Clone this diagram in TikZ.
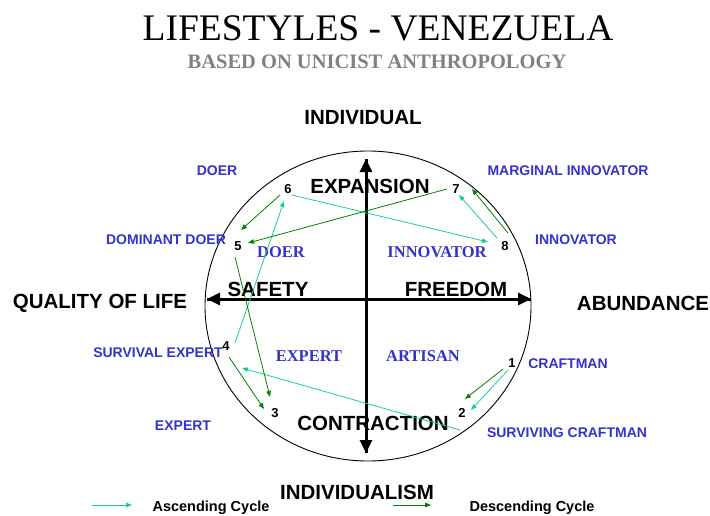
\documentclass[tikz,border=0pt]{standalone}
\usepackage{fontspec}
\setmainfont{Liberation Serif}
\setsansfont{Liberation Sans}
\usepackage{xcolor}
\usetikzlibrary{arrows.meta,calc}
\definecolor{ascend}{RGB}{26,204,153}
\definecolor{descend}{RGB}{0,128,0}
\definecolor{label blue}{RGB}{51,51,204}
\definecolor{sub gray}{RGB}{128,128,128}
\def\lifecircle{(368,306) ellipse (163 and 155)}
\tikzset{axis/.style={line width=3pt, -{Triangle[length=13pt,width=12pt]}},
    upcycle/.style={draw=ascend, line width=0.8pt, -{Triangle[length=6pt,width=4.5pt]}},
    downcycle/.style={draw=descend, line width=0.8pt, -{Triangle[length=6pt,width=4.5pt]}},
    pole/.style={font=\sffamily\bfseries\fontsize{20.5}{22}\selectfont, inner sep=0pt},
    style name/.style={font=\sffamily\bfseries\fontsize{14}{16}\selectfont, text=label blue, inner sep=0pt},
    quadrant/.style={font=\bfseries\fontsize{16.5}{18}\selectfont, text=label blue, inner sep=0pt},
    step num/.style={font=\sffamily\bfseries\fontsize{13}{15}\selectfont, inner sep=0pt},
    legend/.style={font=\sffamily\bfseries\fontsize{14.5}{16}\selectfont, inner sep=0pt}}

\begin{document}
\begin{tikzpicture}[x=1pt, y=-1pt]
    \useasboundingbox (0,0) rectangle (710,515);
    % titles
    \node[inner sep=0pt, font=\fontsize{37.5}{40}\selectfont] (title) at (378,28) {LIFESTYLES - VENEZUELA};
    \node[inner sep=0pt, font=\bfseries\fontsize{20.5}{22}\selectfont, text=sub gray] (subtitle) at (377,62) {BASED ON UNICIST ANTHROPOLOGY};
    % circle and axes
    \draw[line width=0.9pt] \lifecircle;
    \coordinate (top) at (366,159);
    \coordinate (bottom) at (366,453);
    \coordinate (left) at (207,299);
    \coordinate (right) at (531,299);
    \draw[axis] (bottom) -- (top);
    \draw[axis] (top) -- (bottom);
    \draw[axis] (right) -- (left);
    \draw[axis] (left) -- (right);
    % outer poles
    \node[pole] (individual) at (363,118) {INDIVIDUAL};
    \node[pole] (individualism) at (357,492) {INDIVIDUALISM};
    \node[pole] (quality) at (100,303) {QUALITY OF LIFE};
    \node[pole] (abundance) at (643,303) {ABUNDANCE};
    % inner poles
    \node[pole] (expansion) at (370,186) {EXPANSION};
    \node[pole] (contraction) at (373,423) {CONTRACTION};
    \node[pole] (safety) at (268,289) {SAFETY};
    \node[pole] (freedom) at (456,289) {FREEDOM};
    % quadrants
    \node[quadrant] (q doer) at (281,252) {DOER};
    \node[quadrant] (q innovator) at (437,252) {INNOVATOR};
    \node[quadrant] (q expert) at (309,356) {EXPERT};
    \node[quadrant] (q artisan) at (423,356) {ARTISAN};
    % lifestyles
    \node[style name] (doer) at (217,171) {DOER};
    \node[style name] (marginal) at (568,171) {MARGINAL INNOVATOR};
    \node[style name] (dominant) at (166,240) {DOMINANT DOER};
    \node[style name] (innovator) at (576,240) {INNOVATOR};
    \node[style name] (survival) at (158,353) {SURVIVAL EXPERT};
    \node[style name] (craftman) at (568,364) {CRAFTMAN};
    \node[style name] (expert) at (183,426) {EXPERT};
    \node[style name] (surviving) at (567,433) {SURVIVING CRAFTMAN};
    % steps
    \node[step num] (n1) at (512,363) {1};
    \node[step num] (n2) at (462,413) {2};
    \node[step num] (n3) at (275,413) {3};
    \node[step num] (n4) at (226,346) {4};
    \node[step num] (n5) at (238,246) {5};
    \node[step num] (n6) at (288,189) {6};
    \node[step num] (n7) at (456,189) {7};
    \node[step num] (n8) at (505,246) {8};
    % ascending cycle
    \draw[upcycle] ($(n1)+(-4,7)$) -- ($(n2)+(9,-3)$);
    \draw[upcycle] ($(n2)+(-2,17)$) -- ($(n4)+(16,22)$);
    \draw[upcycle] ($(n4)+(9,-3)$) -- ($(n6)+(-4,12)$);
    \draw[upcycle] ($(n6)+(4,6)$) -- ($(n8)+(-17,-4)$);
    \draw[upcycle] ($(n8)+(-8,-8)$) -- ($(n7)+(3,6)$);
    % descending cycle
    \draw[downcycle] ($(n8)+(3,-13)$) -- ($(n7)+(16,0)$);
    \draw[downcycle] ($(n7)+(-9,0)$) -- ($(n5)+(10,-3)$);
    \draw[downcycle] ($(n6)+(-8,6)$) -- ($(n5)+(3,-16)$);
    \draw[downcycle] ($(n5)+(-3,11)$) -- ($(n3)+(-5,-16)$);
    \draw[downcycle] ($(n4)+(3,11)$) -- ($(n3)+(-11,-4)$);
    \draw[downcycle] ($(n1)+(-9,6)$) -- ($(n2)+(3,-14)$);
    % legend
    \coordinate (asc start) at (92,505);
    \coordinate (asc end) at (132,505);
    \coordinate (desc start) at (393,505);
    \coordinate (desc end) at (431,505);
    \draw[upcycle] (asc start) -- (asc end);
    \draw[downcycle] (desc start) -- (desc end);
    \node[legend] (asc text) at (211,508) {Ascending Cycle};
    \node[legend] (desc text) at (532,508) {Descending Cycle};
\end{tikzpicture}
\end{document}
